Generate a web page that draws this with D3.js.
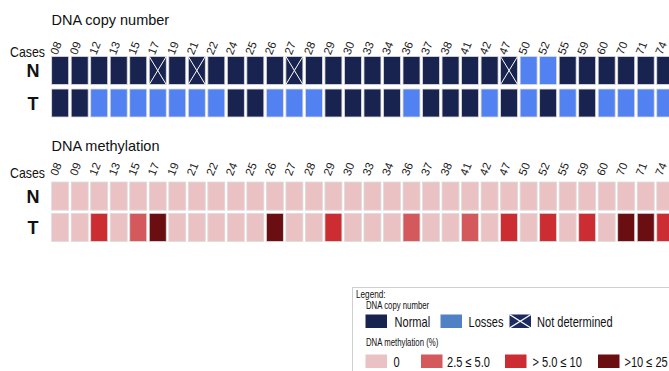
<!DOCTYPE html>
<html>
<head>
<meta charset="utf-8">
<script src="https://cdn.jsdelivr.net/npm/d3@7"></script>
<style>
  html, body { margin: 0; padding: 0; background: #fff; }
  svg { display: block; }
  text { font-family: "Liberation Sans", Arial, Helvetica, sans-serif; }
</style>
</head>
<body>
<svg id="chart" width="669" height="371"></svg>
<script>
// Case identifiers (columns)
const cases = ["08","09","12","13","15","17","19","21","22","24","25","26","27","28","29","30",
               "33","34","36","37","38","41","42","47","50","52","55","59","60","70","71","74"];
const rows = ["N", "T"];

// DNA copy number status per case: "normal", "loss", "nd" (not determined)
const copyNumberN = ["normal","normal","normal","normal","normal","nd","normal","nd","normal","normal",
                     "normal","normal","nd","normal","normal","normal","normal","normal","normal","normal",
                     "normal","normal","normal","nd","loss","loss","normal","normal","normal","normal",
                     "normal","normal"];
const copyNumberT = ["normal","normal","loss","loss","loss","loss","loss","loss","loss","normal",
                     "normal","loss","loss","loss","normal","normal","normal","normal","loss","normal",
                     "normal","normal","loss","normal","loss","normal","loss","normal","loss","loss",
                     "loss","loss"];

// DNA methylation class per case: 0 = 0%, 1 = 2.5–5.0, 2 = >5.0–10, 3 = >10–25
const methylN = [0,0,0,0,0,0,0,0,0,0,0,0,0,0,0,0,0,0,0,0,0,0,0,0,0,0,0,0,0,0,0,0];
const methylT = [0,0,2,0,1,3,0,0,0,0,0,3,0,0,2,0,0,0,1,0,0,1,0,2,0,2,0,2,0,3,3,2];

const copyLabels = ["Normal", "Losses", "Not determined"];
const methylLabels = ["0", "2.5 \u2264 5.0", "> 5.0 \u2264 10", ">10 \u2264 25"];

const copyColor = d3.scaleOrdinal().domain(["normal","loss","nd"]).range(["#18234f","#5282f2","#18234f"]);
const methylColor = d3.scaleOrdinal().domain([0,1,2,3]).range(["#ebc2c4","#d4595d","#cc2d33","#6a0e11"]);

const svg = d3.select("#chart");

// condensed text: horizontally squeezed label
function narrowText(sel, x, y, size, sx, str) {
  return sel.append("text")
    .attr("transform", `translate(${x},${y}) scale(${sx},1)`)
    .attr("font-size", size).attr("fill", "#111")
    .text(str);
}

const x = d3.scaleBand().domain(cases).range([50.4, 675.0]).paddingInner(0.13).paddingOuter(0.065);

function panel(opts) {
  const g = svg.append("g");
  const y = d3.scaleBand().domain(rows).range(opts.yRange).paddingInner(opts.rowPad);

  g.append("text")
    .attr("x", 51.5).attr("y", opts.titleY)
    .attr("font-size", 14.5).attr("fill", "#111")
    .text(opts.title);

  narrowText(g, 10, opts.casesY, 14, 0.88, "Cases");

  // rotated case labels
  g.selectAll("text.case").data(cases).join("text")
    .attr("class", "case")
    .attr("transform", d => `translate(${x(d) + x.bandwidth() / 2 - 3},${opts.casesY - 1}) rotate(-68)`)
    .attr("font-size", 11.5).attr("fill", "#222")
    .text(d => d);

  // row labels
  g.selectAll("text.row").data(rows).join("text")
    .attr("class", "row")
    .attr("x", 33).attr("y", d => y(d) + y.bandwidth() / 2 + 6.5)
    .attr("text-anchor", "middle")
    .attr("font-size", 18).attr("font-weight", "bold").attr("fill", "#111")
    .text(d => d);

  const cells = [];
  rows.forEach((r, ri) => {
    cases.forEach((c, ci) => cells.push({ row: r, c, v: opts.values[ri][ci] }));
  });

  const cg = g.selectAll("g.cell").data(cells).join("g").attr("class", "cell")
    .attr("transform", d => `translate(${x(d.c)},${y(d.row)})`);

  cg.append("rect")
    .attr("width", x.bandwidth()).attr("height", y.bandwidth())
    .attr("fill", d => opts.color(d.v))
    .attr("stroke", "#dcdcdc").attr("stroke-width", 0.8);

  if (opts.cross) {
    cg.filter(d => d.v === "nd").each(function () {
      const w = x.bandwidth(), h = y.bandwidth();
      d3.select(this).append("path")
        .attr("d", `M0,0L${w},${h}M${w},0L0,${h}`)
        .attr("stroke", "#ffffff").attr("stroke-width", 1).attr("fill", "none");
    });
  }
}

panel({
  title: "DNA copy number", titleY: 24.5, casesY: 56.5,
  yRange: [56.5, 117], rowPad: 0.14,
  values: [copyNumberN, copyNumberT], color: copyColor, cross: true
});

panel({
  title: "DNA methylation", titleY: 150.5, casesY: 177.5,
  yRange: [182, 241.5], rowPad: 0.1,
  values: [methylN, methylT], color: methylColor, cross: false
});

// Legend
const lg = svg.append("g").attr("transform", "translate(352.5,287.5)");
lg.append("rect").attr("x", 0).attr("y", 0).attr("width", 330).attr("height", 100)
  .attr("fill", "#fff").attr("stroke", "#cfcfcf").attr("stroke-width", 1);

narrowText(lg, 3.5, 10, 10, 0.82, "Legend:");
narrowText(lg, 13.5, 21, 10, 0.78, "DNA copy number");
narrowText(lg, 13.5, 58.5, 10, 0.78, "DNA methylation (%)");

const copyLegend = [
  { key: "normal", fill: "#18234f", x: 13, tx: 42 },
  { key: "loss", fill: "#4f81c4", x: 88, tx: 116 },
  { key: "nd", fill: "#1c2a60", x: 157, tx: 184.5 }
];
copyLegend.forEach((d, i) => {
  lg.append("rect").attr("x", d.x).attr("y", 27).attr("width", 21.5).attr("height", 13.5)
    .attr("fill", d.fill);
  if (d.key === "nd") {
    lg.append("path")
      .attr("d", `M${d.x},27L${d.x + 21.5},40.5M${d.x + 21.5},27L${d.x},40.5`)
      .attr("stroke", "#fff").attr("stroke-width", 1.4);
  }
  narrowText(lg, d.tx, 39, 14, 0.79, copyLabels[i]);
});

const methylLegend = [
  { v: 0, x: 13, tx: 41 },
  { v: 1, x: 68.5, tx: 94.5 },
  { v: 2, x: 152.5, tx: 180 },
  { v: 3, x: 245.5, tx: 272 }
];
methylLegend.forEach((d, i) => {
  lg.append("rect").attr("x", d.x).attr("y", 67).attr("width", 21.5).attr("height", 13.5)
    .attr("fill", methylColor(d.v));
  narrowText(lg, d.tx, 79.5, 14, 0.79, methylLabels[i]);
});
</script>
</body>
</html>
